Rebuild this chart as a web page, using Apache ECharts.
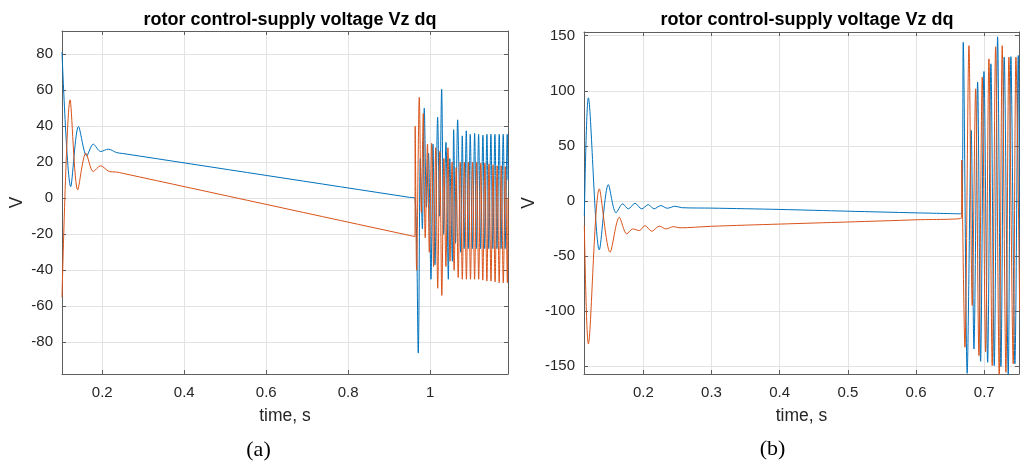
<!DOCTYPE html>
<html lang="en">
<head>
<meta charset="UTF-8">
<title>rotor control-supply voltage Vz dq</title>
<script src="https://cdn.jsdelivr.net/npm/echarts@6/dist/echarts.min.js"></script>
<style>
  html, body { margin: 0; padding: 0; background: #ffffff; }
  #main { width: 1020px; height: 464px; }
</style>
</head>
<body>
<div id="main"></div>
<script>
// ---- (a) ----  [time s, voltage V]
var aTicksX = [0.2, 0.4, 0.6, 0.8, 1];
var aTicksY = [-80, -60, -40, -20, 0, 20, 40, 60, 80];
var aVzd = [
  [0.1017, 81], [0.123, 6.4], [0.142, 39.8], [0.162, 23.5], [0.178, 30], [0.196, 25.9],
  [0.215, 27.2], [0.235, 25.3], [0.25, 24.8], [0.95, 0.45], [0.963, 0],
  [0.971, -86], [0.976, 22], [0.981, -17], [0.9857, 50], [0.991, -5], [0.996, 25],
  [1.002, -45], [1.007, 30], [1.0118, -37], [1.0183, 45], [1.023, -10], [1.0281, 60.5],
  [1.033, -20], [1.0386, 31], [1.0444, -45], [1.048, 22], [1.0542, -35], [1.0574, 38],
  [1.062, -25], [1.0671, 43.5], [1.0745, -30], [1.0784, 34.6], [1.083, -28], [1.0882, 37.4],
  [1.093, -28], [1.0979, 35.5], [1.103, -28], [1.1086, 36], [1.113, -28], [1.1183, 35.5],
  [1.123, -28], [1.1288, 35], [1.133, -28], [1.1386, 35.5], [1.143, -28], [1.1483, 35.5],
  [1.153, -28], [1.1581, 35.5], [1.163, -28], [1.1686, 35.5], [1.173, -28], [1.1783, 35.5],
  [1.183, -28], [1.1881, 35.5], [1.19, 10]
];
var aVzq = [
  [0.1017, -55], [0.1215, 54.6], [0.140, 4.6], [0.160, 25], [0.178, 14.8], [0.196, 18],
  [0.217, 14.8], [0.235, 14.5], [0.25, 13.8], [0.95, -20.7], [0.963, -21.3],
  [0.9635, 40], [0.967, -40], [0.9735, 56], [0.9785, -8], [0.9832, 47], [0.988, -22],
  [0.9935, 30], [0.998, -30], [1.0037, 30.5], [1.0085, -38], [1.0135, 28], [1.0185, -50],
  [1.0235, 26], [1.0285, -54], [1.0335, 22], [1.0385, -38], [1.0435, 28], [1.0485, -35],
  [1.0535, 20], [1.0585, -40], [1.0635, 17], [1.0685, -44], [1.0735, 20], [1.0785, -45],
  [1.0835, 20], [1.0885, -45], [1.0935, 20], [1.0985, -45], [1.1035, 20], [1.1085, -45],
  [1.1135, 20], [1.1185, -45], [1.1235, 19.5], [1.1285, -45.5], [1.1335, 19.5], [1.1385, -46],
  [1.1435, 19], [1.1485, -46], [1.1535, 18.5], [1.1585, -46.5], [1.1635, 18], [1.1685, -47],
  [1.1735, 18], [1.1785, -47], [1.1835, 17.5], [1.1885, -47], [1.19, 0]
];

// ---- (b) ----
var bTicksX = [0.2, 0.3, 0.4, 0.5, 0.6, 0.7];
var bTicksY = [-150, -100, -50, 0, 50, 100, 150];
var bVzd = [
  [0.1135, -14], [0.1194, 93.6], [0.1355, -44.5], [0.1487, 14.8], [0.16, -10.9], [0.1698, -2.7],
  [0.178, -7.3], [0.1878, -2.2], [0.1976, -7.3], [0.2073, -3.4], [0.2157, -7.3], [0.2255, -4.3],
  [0.2352, -6.7], [0.2465, -4.9], [0.2563, -6.2], [0.3, -6.6], [0.4, -7.8], [0.5, -9.4],
  [0.6, -10.9], [0.6669, -11.8],
  [0.6692, 144], [0.675, -156.7], [0.6809, 64], [0.6849, -134.6], [0.6903, 108], [0.6947, -145.8],
  [0.6996, 117.5], [0.705, -146.7], [0.7098, 124.5], [0.7147, -149.7], [0.7196, 149], [0.7245, -150.6],
  [0.7293, 130.5], [0.7352, -158], [0.7391, 131], [0.745, -148], [0.7499, 132], [0.752, -60]
];
var bVzq = [
  [0.1135, -22.5], [0.1194, -130], [0.1355, 10.9], [0.1512, -46.7], [0.1648, -14.9], [0.1757, -30],
  [0.1845, -25.5], [0.1941, -27], [0.2025, -22.5], [0.2123, -27.6], [0.2235, -23], [0.2333, -25.5],
  [0.244, -23.4], [0.2538, -24.5], [0.3, -23.1], [0.4, -21.1], [0.5, -19.2], [0.6, -17.2],
  [0.6669, -15.5],
  [0.667, 37], [0.6717, -133], [0.6776, 141], [0.6824, -95], [0.6874, 101.8], [0.6922, -140.6],
  [0.6971, 112.4], [0.702, -137], [0.7069, 129], [0.7117, -149.7], [0.7167, 140], [0.722, -160],
  [0.7264, 141], [0.7318, -155.8], [0.7362, 130.5], [0.7425, -148], [0.7465, 130.5], [0.752, -100]
];

var FONT = '"Liberation Sans", Arial, Helvetica, sans-serif';
var AXIS_COLOR = '#5e5e5e';
var TEXT_COLOR = '#262626';
var BLUE = '#0072BD';
var ORANGE = '#D95319';

var chart = echarts.init(document.getElementById('main'), null, { renderer: 'canvas' });

function xAxes(grid, min, max, ticks) {
  var line = { show: true, onZero: false, lineStyle: { color: AXIS_COLOR, width: 1 } };
  return [{
    gridIndex: grid, type: 'value', position: 'bottom', min: min, max: max,
    name: 'time, s', nameLocation: 'middle', nameGap: 33,
    nameTextStyle: { fontSize: 17.5, color: TEXT_COLOR, fontFamily: FONT },
    axisLine: line,
    axisTick: { show: true, inside: true, length: 4, customValues: ticks, lineStyle: { color: AXIS_COLOR } },
    axisLabel: { customValues: ticks, fontSize: 15, color: TEXT_COLOR, fontFamily: FONT, margin: 11 },
    splitLine: { show: true, lineStyle: { color: '#e3e3e3', width: 1 } }
  }, {
    gridIndex: grid, type: 'value', position: 'top', min: min, max: max,
    axisLine: line,
    axisTick: { show: true, inside: true, length: 4, customValues: ticks, lineStyle: { color: AXIS_COLOR } },
    axisLabel: { show: false },
    splitLine: { show: false }
  }];
}

function yAxes(grid, min, max, ticks, gap) {
  var line = { show: true, onZero: false, lineStyle: { color: AXIS_COLOR, width: 1 } };
  return [{
    gridIndex: grid, type: 'value', position: 'left', min: min, max: max,
    name: 'V', nameLocation: 'middle', nameGap: gap, nameRotate: 90,
    nameTextStyle: { fontSize: 17.5, color: TEXT_COLOR, fontFamily: FONT },
    axisLine: line,
    axisTick: { show: true, inside: true, length: 4, customValues: ticks, lineStyle: { color: AXIS_COLOR } },
    axisLabel: { customValues: ticks, fontSize: 15, color: TEXT_COLOR, fontFamily: FONT, margin: 9 },
    splitLine: { show: true, lineStyle: { color: '#e3e3e3', width: 1 } }
  }, {
    gridIndex: grid, type: 'value', position: 'right', min: min, max: max,
    axisLine: line,
    axisTick: { show: true, inside: true, length: 4, customValues: ticks, lineStyle: { color: AXIS_COLOR } },
    axisLabel: { show: false },
    splitLine: { show: false }
  }];
}

function wave(data, color, xi, yi) {
  return {
    type: 'line', data: data, xAxisIndex: xi, yAxisIndex: yi,
    showSymbol: false, symbol: 'none', smooth: 0.3,
    clip: true, lineStyle: { color: color, width: 1 }, itemStyle: { color: color },
    emphasis: { disabled: true }
  };
}

var TITLE = 'rotor control-supply voltage Vz dq';

chart.setOption({
  animation: false,
  backgroundColor: '#ffffff',
  title: [
    { text: TITLE, left: 285, top: 6, textAlign: 'center',
      textStyle: { fontSize: 18, fontWeight: 'bold', color: '#000', fontFamily: FONT } },
    { text: TITLE, left: 802, top: 6, textAlign: 'center',
      textStyle: { fontSize: 18, fontWeight: 'bold', color: '#000', fontFamily: FONT } }
  ],
  grid: [
    { left: 62, right: 512, top: 31, bottom: 90, outerBoundsMode: 'none' },
    { left: 584, right: 1, top: 32, bottom: 90, outerBoundsMode: 'none' }
  ],
  xAxis: xAxes(0, 0.1017, 1.19, aTicksX).concat(xAxes(1, 0.113, 0.751, bTicksX)),
  yAxis: yAxes(0, -97.6, 92.8, aTicksY, 36).concat(yAxes(1, -157.3, 153.4, bTicksY, 46)),
  series: [
    wave(aVzd, BLUE, 0, 0),
    wave(aVzq, ORANGE, 0, 0),
    wave(bVzd, BLUE, 2, 2),
    wave(bVzq, ORANGE, 2, 2)
  ],
  graphic: [
    { type: 'text', x: 258.5, y: 450,
      style: { text: '(a)', font: '22px "Liberation Serif", "Times New Roman", serif', fill: '#000', align: 'center', verticalAlign: 'middle' } },
    { type: 'text', x: 772.5, y: 449,
      style: { text: '(b)', font: '22px "Liberation Serif", "Times New Roman", serif', fill: '#000', align: 'center', verticalAlign: 'middle' } }
  ]
});
</script>
</body>
</html>
